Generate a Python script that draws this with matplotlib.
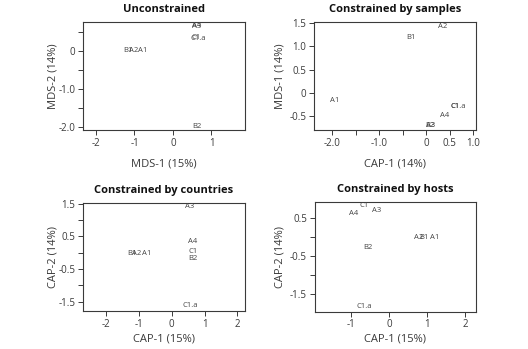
import matplotlib
matplotlib.use("Agg")
import matplotlib.pyplot as plt

plt.rcParams['font.family'] = ['Open Sans', 'DejaVu Sans']

# etiquetas de las muestras
labels = ["A1", "A2", "A3", "A4", "B1", "B2", "C1", "C1.a"]

# Unconstrained (MDS)
unc_x = [-0.78, -1.03, 0.62, 0.62, -1.17, 0.62, 0.60, 0.66]
unc_y = [0.00, 0.00, 0.63, 0.67, 0.00, -1.97, 0.36, 0.33]

# Constrained by samples
smp_x = [-1.96, 0.36, 0.10, 0.39, -0.32, 0.08, 0.62, 0.68]
smp_y = [-0.16, 1.43, -0.71, -0.48, 1.19, -0.70, -0.29, -0.29]

# Constrained by countries
cty_x = [-0.76, -1.07, 0.54, 0.63, -1.22, 0.64, 0.64, 0.56]
cty_y = [-0.02, -0.02, 1.41, 0.34, -0.02, -0.17, 0.05, -1.63]

# Constrained by hosts
hst_x = [1.20, 0.79, -0.32, -0.94, 0.92, -0.55, -0.64, -0.64]
hst_y = [-0.02, -0.02, 0.70, 0.60, -0.02, -0.28, 0.81, -1.84]

panels = [
    dict(title="Unconstrained", x=unc_x, y=unc_y,
         xlabel="MDS-1 (15%)", ylabel="MDS-2 (14%)",
         xlim=(-2.34, 1.87), ylim=(-2.07, 0.75),
         xticks=[-2, -1, 0, 1], xtl=["-2", "-1", "0", "1"],
         yticks=[-2, -1.5, -1, -0.5, 0, 0.5], ytl=["-2.0", "", "-1.0", "", "0", ""],
         rect=[0.157, 0.6275, 0.307, 0.309], ypad=0, xpad=7),
    dict(title="Constrained by samples", x=smp_x, y=smp_y,
         xlabel="CAP-1 (14%)", ylabel="MDS-1 (14%)",
         xlim=(-2.39, 1.07), ylim=(-0.80, 1.52),
         xticks=[-2, -1.5, -1, -0.5, 0, 0.5, 1],
         xtl=["-2.0", "", "-1.0", "", "0", "0.5", "1.0"],
         yticks=[-0.5, 0, 0.5, 1, 1.5], ytl=["-0.5", "0", "0.5", "1.0", "1.5"],
         rect=[0.595, 0.6275, 0.307, 0.309], ypad=3, xpad=7),
    dict(title="Constrained by countries", x=cty_x, y=cty_y,
         xlabel="CAP-1 (15%)", ylabel="CAP-2 (14%)",
         xlim=(-2.7, 2.23), ylim=(-1.79, 1.52),
         xticks=[-2, -1, 0, 1, 2], xtl=["-2", "-1", "0", "1", "2"],
         yticks=[-1.5, -1, -0.5, 0, 0.5, 1, 1.5],
         ytl=["-1.5", "", "-0.5", "", "0.5", "", "1.5"],
         rect=[0.157, 0.109, 0.307, 0.309], ypad=0, xpad=2.5),
    dict(title="Constrained by hosts", x=hst_x, y=hst_y,
         xlabel="CAP-1 (15%)", ylabel="CAP-2 (14%)",
         xlim=(-1.95, 2.28), ylim=(-1.97, 0.92),
         xticks=[-1, 0, 1, 2], xtl=["-1", "0", "1", "2"],
         yticks=[-1.5, -1, -0.5, 0, 0.5], ytl=["-1.5", "", "-0.5", "", "0.5"],
         rect=[0.596, 0.107, 0.305, 0.315], ypad=3, xpad=2.5),
]

fig = plt.figure(figsize=(5.28, 3.49), dpi=100)
gris = "#3a3a3a"

for p in panels:
    ax = fig.add_axes(p["rect"])
    for lab, xv, yv in zip(labels, p["x"], p["y"]):
        ax.text(xv, yv, lab, fontsize=5.5, color="#444444", ha="center", va="center")
    ax.set_xlim(*p["xlim"])
    ax.set_ylim(*p["ylim"])
    ax.set_xticks(p["xticks"])
    ax.set_xticklabels(p["xtl"])
    ax.set_yticks(p["yticks"])
    ax.set_yticklabels(p["ytl"])
    ax.tick_params(direction="out", length=3.5, width=0.7, colors=gris,
                   labelsize=7, pad=2)
    for s in ax.spines.values():
        s.set_color(gris)
        s.set_linewidth(0.8)
    ax.set_xlabel(p["xlabel"], fontsize=8, color=gris, labelpad=p["xpad"])
    ax.set_ylabel(p["ylabel"], fontsize=8, color=gris, labelpad=p["ypad"])
    ax.set_title(p["title"], fontsize=8, fontweight="bold", color="#111111", pad=7)

plt.savefig("out.png", dpi=100)
